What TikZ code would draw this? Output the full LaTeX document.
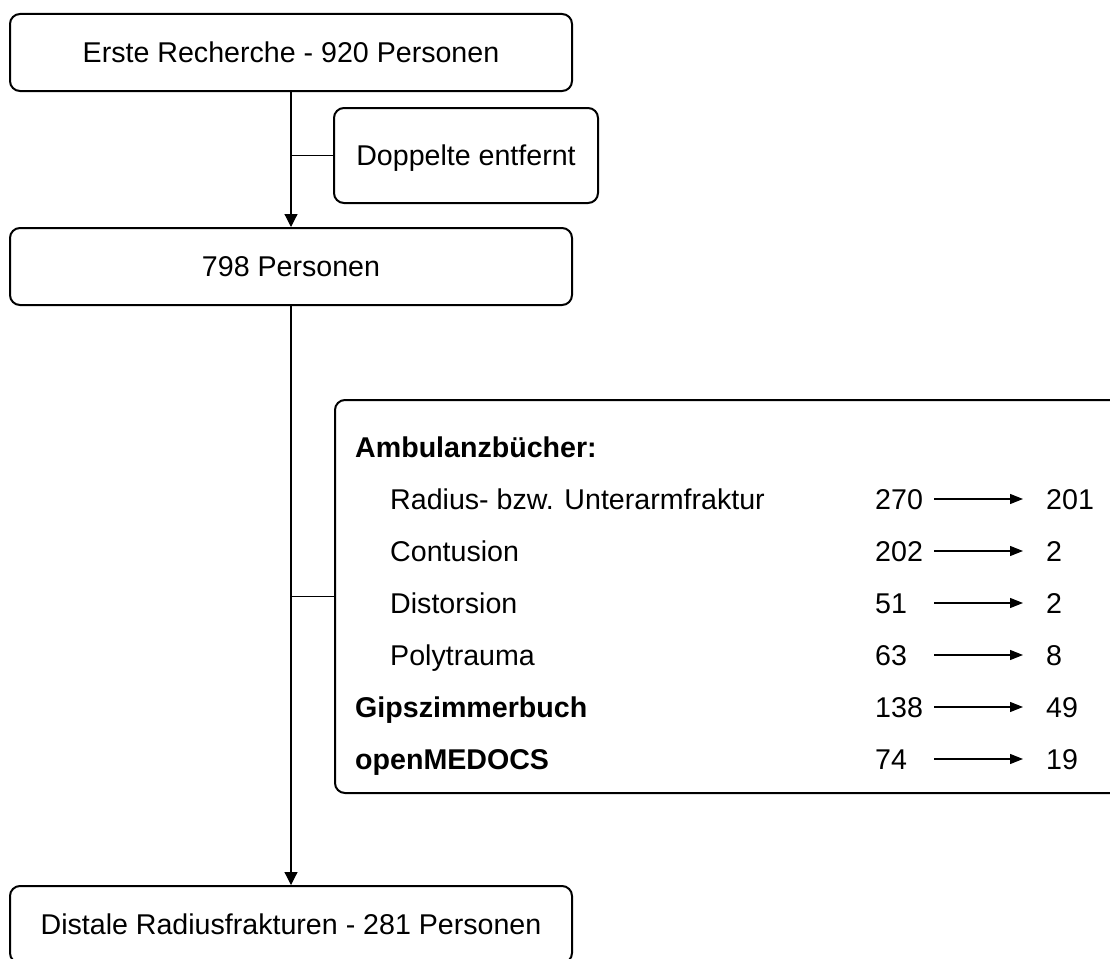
\documentclass[tikz,border=0pt]{standalone}
\usepackage{fontspec}
\setmainfont{Liberation Sans}
\usetikzlibrary{arrows.meta}
\begin{document}
\begin{tikzpicture}[x=1pt,y=-1pt,
  font=\fontsize{28.6}{34}\selectfont,
  box/.style={draw, line width=2pt, rounded corners=10pt, inner sep=0pt,
    text height=20pt, text depth=0pt, align=center},
  conn/.style={line width=1.2pt},
  mainarrow/.style={conn, -{Triangle[width=13pt,length=13pt]}},
  smallarrow/.style={conn, -{Triangle[width=10pt,length=13pt]}},
  lbl/.style={anchor=west, inner sep=0pt, text height=20pt, text depth=0pt},
]
\useasboundingbox (0,0) rectangle (1110,958);
\fill[white] (0,0) rectangle (1110,958);

% main boxes
\node[box, minimum width=562pt, minimum height=77pt] (b1) at (291,52.5) {Erste Recherche - 920 Personen};
\node[box, minimum width=264pt, minimum height=95pt] (dop) at (466,155.5) {Doppelte entfernt};
\node[box, minimum width=562pt, minimum height=77pt] (b2) at (291,266.5) {798 Personen};
\node[box, minimum width=790pt, minimum height=393pt] (big) at (730,596.5) {};
\node[box, minimum width=562pt, minimum height=77pt] (b3) at (291,924.5) {Distale Radiusfrakturen - 281 Personen};

% connectors
\draw[mainarrow] (b1.south) -- (b2.north);
\draw[conn] (b1.south |- dop.west) -- (dop.west);
\draw[mainarrow] (b2.south) -- (b3.north);
\draw[conn] (b2.south |- big.west) -- (big.west);

% contents of the large box
\node[lbl] (h1) at (355,447) {\textbf{Ambulanzbücher:}};
\node[lbl] (r1) at (390,499) {Radius- bzw. Unterarmfraktur};
\node[lbl] (r2) at (390,551) {Contusion};
\node[lbl] (r3) at (390,603) {Distorsion};
\node[lbl] (r4) at (390,655) {Polytrauma};
\node[lbl] (h2) at (355,707) {\textbf{Gipszimmerbuch}};
\node[lbl] (h3) at (355,759) {\textbf{openMEDOCS}};

\node[lbl] (a1) at (875,499) {270};
\node[lbl] (a2) at (875,551) {202};
\node[lbl] (a3) at (875,603) {51};
\node[lbl] (a4) at (875,655) {63};
\node[lbl] (a5) at (875,707) {138};
\node[lbl] (a6) at (875,759) {74};

\node[lbl] (c1) at (1046,499) {201};
\node[lbl] (c2) at (1046,551) {2};
\node[lbl] (c3) at (1046,603) {2};
\node[lbl] (c4) at (1046,655) {8};
\node[lbl] (c5) at (1046,707) {49};
\node[lbl] (c6) at (1046,759) {19};

\foreach \i in {1,...,6}{
  \coordinate (s\i) at (934,0 |- c\i.west);
  \coordinate (e\i) at (1023,0 |- c\i.west);
  \draw[smallarrow] (s\i) -- (e\i);
}
\end{tikzpicture}
\end{document}
